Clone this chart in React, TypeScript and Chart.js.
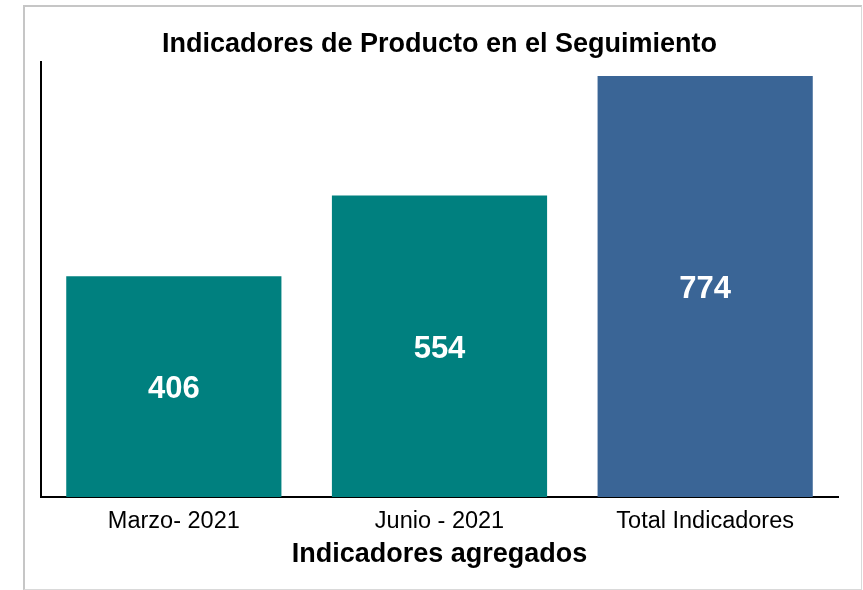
import React, { useEffect, useRef } from "react";
import { Chart, registerables } from "chart.js";

Chart.register(...registerables);

const categories = ["Marzo- 2021", "Junio - 2021", "Total Indicadores"];
const values = [406, 554, 774];
const barColors = ["#00807f", "#00807f", "#3a6596"];
const titleText = "Indicadores de Producto en el Seguimiento";
const xAxisTitle = "Indicadores agregados";
const FONT = "'Liberation Sans', Arial, Helvetica, sans-serif";

const valueLabels = {
  id: "valueLabels",
  afterDatasetsDraw(chart: any) {
    const ctx = chart.ctx;
    const meta = chart.getDatasetMeta(0);
    ctx.save();
    ctx.fillStyle = "#ffffff";
    ctx.font = `bold 31px ${FONT}`;
    ctx.textAlign = "center";
    ctx.textBaseline = "middle";
    meta.data.forEach((bar: any, i: number) => {
      const { x, y, base } = bar.getProps(["x", "y", "base"], true);
      ctx.fillText(String(chart.data.datasets[0].data[i]), x, (y + base) / 2 + 3);
    });
    ctx.restore();
  },
};

export default function App() {
  const ref = useRef<HTMLCanvasElement | null>(null);
  useEffect(() => {
    if (!ref.current) return;
    const chart = new Chart(ref.current, {
      type: "bar",
      data: {
        labels: categories,
        datasets: [
          {
            data: values,
            backgroundColor: barColors,
            borderWidth: 0,
            categoryPercentage: 1,
            barPercentage: 0.81,
          },
        ],
      },
      options: {
        responsive: false,
        animation: false,
        layout: { padding: { left: 41, right: 25, top: 0, bottom: 0 } },
        plugins: {
          legend: { display: false },
          tooltip: { enabled: false },
          title: {
            display: true,
            text: titleText,
            color: "#000000",
            font: { family: FONT, size: 27, weight: "bold", lineHeight: 1.2 },
            padding: { top: 28, bottom: 1.4 },
          },
        },
        scales: {
          x: {
            grid: { display: false, drawTicks: false, tickLength: 0 },
            border: { display: true, color: "#000000", width: 2 },
            ticks: {
              color: "#000000",
              padding: 10,
              font: { family: FONT, size: 23.5, lineHeight: 1.2 },
            },
            title: {
              display: true,
              text: xAxisTitle,
              color: "#000000",
              font: { family: FONT, size: 27, weight: "bold", lineHeight: 1.2 },
              padding: { top: 3.6, bottom: 19 },
            },
            afterFit: (s: any) => {
              s.height = 93;
            },
          },
          y: {
            min: 0,
            max: 800,
            grid: { display: false, drawTicks: false, tickLength: 0 },
            border: { display: true, color: "#000000", width: 2 },
            ticks: { display: false },
            afterFit: (s: any) => {
              s.width = 0;
            },
          },
        },
      },
      plugins: [valueLabels],
    });
    return () => chart.destroy();
  }, []);

  return (
    <div style={{ position: "absolute", left: 0, top: 0, width: 863, height: 590, background: "#ffffff" }}>
      <div
        style={{
          position: "absolute",
          left: 23,
          top: 5,
          width: 839,
          height: 585,
          boxSizing: "border-box",
          borderLeft: "2px solid #c6c6c6",
          borderTop: "2px solid #c6c6c6",
          borderRight: "1px solid #d9d9d9",
          borderBottom: "1px solid #d9d9d9",
        }}
      />
      <canvas
        ref={ref}
        width={863}
        height={590}
        style={{ position: "absolute", left: 0, top: 0, width: 863, height: 590 }}
      />
    </div>
  );
}
